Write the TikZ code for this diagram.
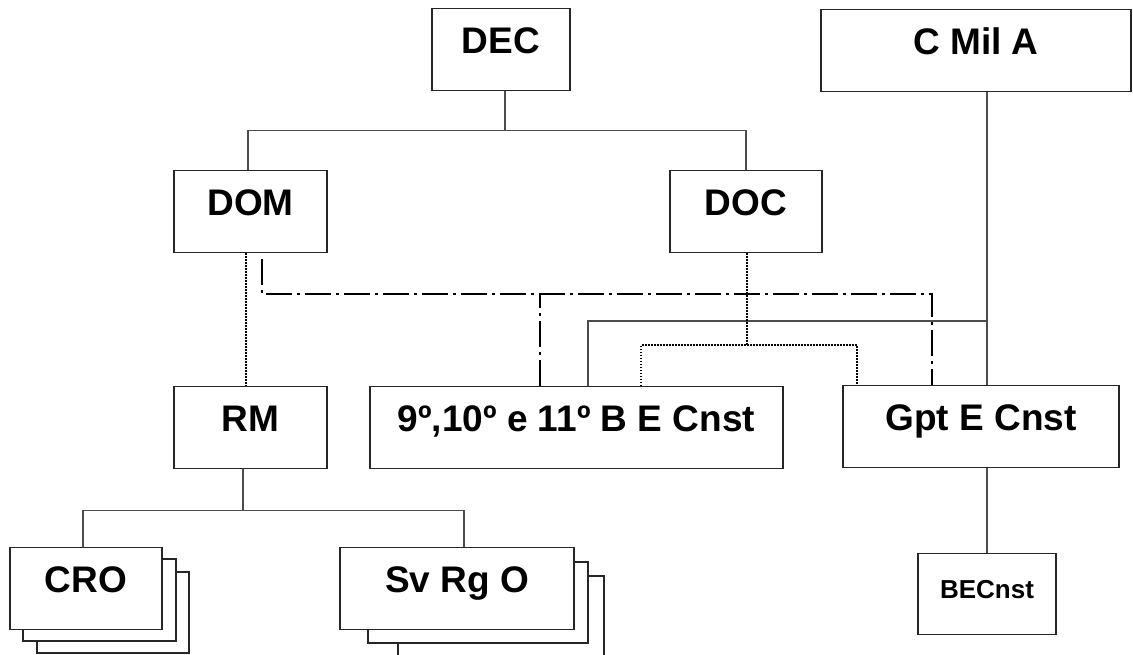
\documentclass[tikz,border=0pt]{standalone}
\usepackage{fontspec}
\setmainfont{Liberation Sans}
\begin{document}
\begin{tikzpicture}[x=1pt, y=-1pt,
    unit/.style={draw=black!85, line width=1.1pt, fill=white, inner sep=0pt,
      text height=45pt, text depth=37pt, anchor=north,
      font=\bfseries\fontsize{37}{42}\selectfont},
    unitback/.style={draw=black!85, line width=1.1pt, fill=white},
    tie/.style={draw=black!70, line width=1.1pt},
    dotline/.style={line width=1.5pt, dash pattern=on 1.5pt off 1.5pt},
    ctrl/.style={line width=2pt, dash pattern=on 26pt off 5pt on 3pt off 5pt}]
    \useasboundingbox (0,0) rectangle (1133,654);

    % stacked copies behind CRO and Sv Rg O
    \draw[unitback] (37,572) rectangle (189,653);
    \draw[unitback] (23,559) rectangle (176,641);
    \draw[unitback] (398,576) rectangle (604,658);
    \draw[unitback] (368,562) rectangle (588,643);

    \node[unit, minimum width=138pt] (dec) at (501,8) {DEC};
    \node[unit, minimum width=310pt] (cmila) at (976,9) {C Mil A};
    \node[unit, minimum width=153pt] (dom) at (250.5,170) {DOM};
    \node[unit, minimum width=152pt] (doc) at (746,170) {DOC};
    \node[unit, minimum width=153pt] (rm) at (250.5,386) {RM};
    \node[unit, minimum width=413pt] (bat) at (576.5,386) {9º,10º e 11º B E Cnst};
    \node[unit, minimum width=276pt] (gpt) at (981,385) {Gpt E Cnst};
    \node[unit, minimum width=138pt, text depth=36pt,
      font=\bfseries\fontsize{26}{30}\selectfont] (becnst) at (987,553) {BECnst};
    \node[unit, minimum width=152pt] (cro) at (86,547) {CRO};
    \node[unit, minimum width=234pt] (svrgo) at (457,547) {Sv Rg O};

    % command lines
    \draw[tie] ([xshift=4pt]dec.south) -- ++(0,39) coordinate (decfork);
    \draw[tie] ([xshift=-2.5pt]dom.north) |- (decfork) -| (doc.north);
    \draw[tie] (cmila.south -| becnst.north) -- (gpt.north -| becnst.north);
    \coordinate (cmilfork) at (987,321);
    \draw[tie] (cmilfork) -| ([xshift=11.5pt]bat.north);
    \draw[tie] (gpt.south -| becnst.north) -- (becnst.north);
    \draw[tie] ([xshift=-7.5pt]rm.south) -- ++(0,41) coordinate (rmfork);
    \draw[tie] ([xshift=-3pt]cro.north) |- (rmfork) -| ([xshift=7pt]svrgo.north);

    % technical lines
    \draw[dotline] ([xshift=-4.5pt]dom.south) -- ([xshift=-4.5pt]rm.north);
    \draw[dotline] ([xshift=1pt]doc.south) -- ++(0,92) coordinate (docfork);
    \draw[dotline] ([xshift=64.5pt]bat.north) |- (docfork) -| ([xshift=-124pt]gpt.north);

    % coordination lines
    \draw[ctrl] ([shift={(11.5,6)}]dom.south) -- ++(0,35) coordinate (ctrlfork)
      -| ([xshift=-49pt]gpt.north);
    \draw[ctrl] ([xshift=-36.5pt]bat.north) -- ([xshift=-36.5pt]bat.north |- ctrlfork);
\end{tikzpicture}
\end{document}
